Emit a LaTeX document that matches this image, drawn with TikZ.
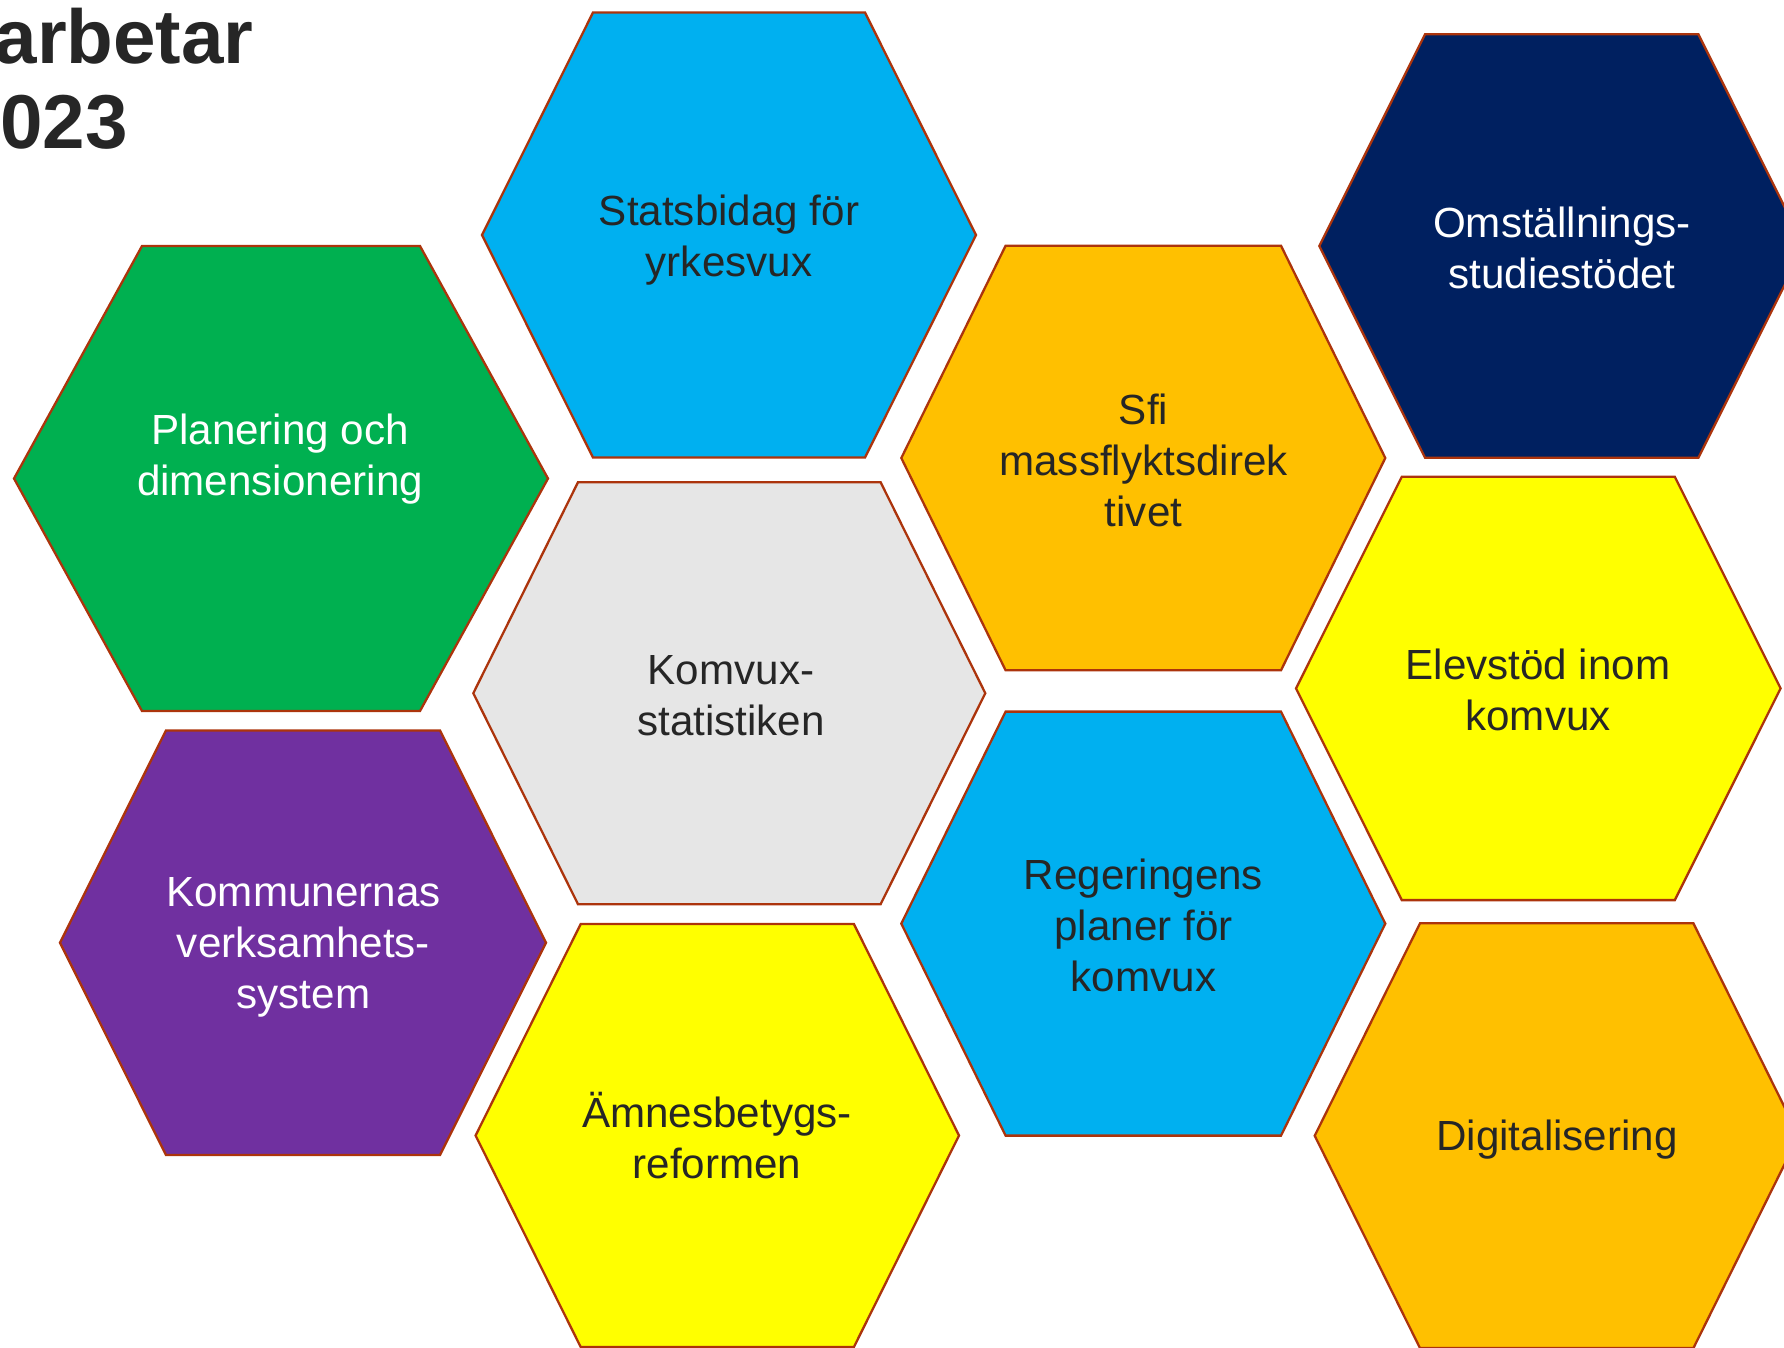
\documentclass[tikz,border=0pt]{standalone}
\usepackage{fontspec}
\setmainfont{Liberation Sans}
\definecolor{hexborder}{RGB}{172,52,12}
\definecolor{txtdark}{RGB}{38,38,38}
\definecolor{cblue}{RGB}{0,176,240}
\definecolor{cgreen}{RGB}{0,176,80}
\definecolor{cgray}{RGB}{230,230,230}
\definecolor{corange}{RGB}{255,192,0}
\definecolor{cnavy}{RGB}{0,32,96}
\definecolor{cyellow}{RGB}{255,255,0}
\definecolor{cpurple}{RGB}{112,48,160}
\newcommand\hexfont{\fontsize{24}{29}\selectfont}
\newcommand\hexcell[6]{% cx cy hw thw hh fill
  \path[hexline, fill=#6] (#1-#3,#2) -- (#1-#4,#2-#5) -- (#1+#4,#2-#5) -- (#1+#3,#2)
    -- (#1+#4,#2+#5) -- (#1-#4,#2+#5) -- cycle;}
\begin{document}
\begin{tikzpicture}[x=0.02cm,y=-0.02cm,
  hexline/.style={draw=hexborder, line width=1.3pt, line join=miter},
  lbl/.style={font=\hexfont, align=center, text=txtdark, inner sep=0pt},
  lblw/.style={lbl, text=white},
  titletext/.style={font=\bfseries\fontsize{43.5}{50}\selectfont, text=txtdark, inner sep=0pt, anchor=base east}]
\useasboundingbox (0,0) rectangle (1784,1347);
% hexagons
\hexcell{729}{235}{247}{136}{222.5}{cblue}
\hexcell{281}{478.5}{267}{139}{232.5}{cgreen}
\hexcell{729.3}{693.2}{256}{151.3}{211}{cgray}
\hexcell{1143.3}{458}{242}{137.7}{212.3}{corange}
\hexcell{1561.7}{246}{242.4}{136.7}{211.7}{cnavy}
\hexcell{1538.3}{688.4}{242.3}{136.5}{211.7}{cyellow}
\hexcell{303}{942.7}{243}{137}{212.3}{cpurple}
\hexcell{717.3}{1135.5}{241.7}{136.6}{211.5}{cyellow}
\hexcell{1143.3}{923.6}{242}{137.7}{212}{cblue}
\hexcell{1556.7}{1135.7}{242}{136.7}{212.4}{corange}
% labels
\node[lbl]  (stats) at (729,240)    {Statsbidag för\\yrkesvux};
\node[lblw] (plan)  at (280,459)    {Planering och\\dimensionering};
\node[lbl]  (komv)  at (731,696)    {Komvux-\\statistiken};
\node[lbl]  (sfi)   at (1143.5,460) {Sfi\\massflyktsdirek\\tivet};
\node[lblw] (omst)  at (1562,248)   {Omställnings-\\studiestödet};
\node[lbl]  (elev)  at (1538,690)   {Elevstöd inom\\komvux};
\node[lblw] (kommun) at (303.5,947) {Kommunernas\\verksamhets-\\system};
\node[lbl]  (amnes) at (717,1136)   {Ämnesbetygs-\\reformen};
\node[lbl]  (reg)   at (1143.5,925) {Regeringens\\planer för\\komvux};
\node[lbl]  (digi)  at (1557,1140)  {Digitalisering};
% title fragments
\node[titletext] (t1) at (254,63.3) {arbetar};
\node[titletext] (t2) at (128,148.3) {2023};
\end{tikzpicture}
\end{document}
